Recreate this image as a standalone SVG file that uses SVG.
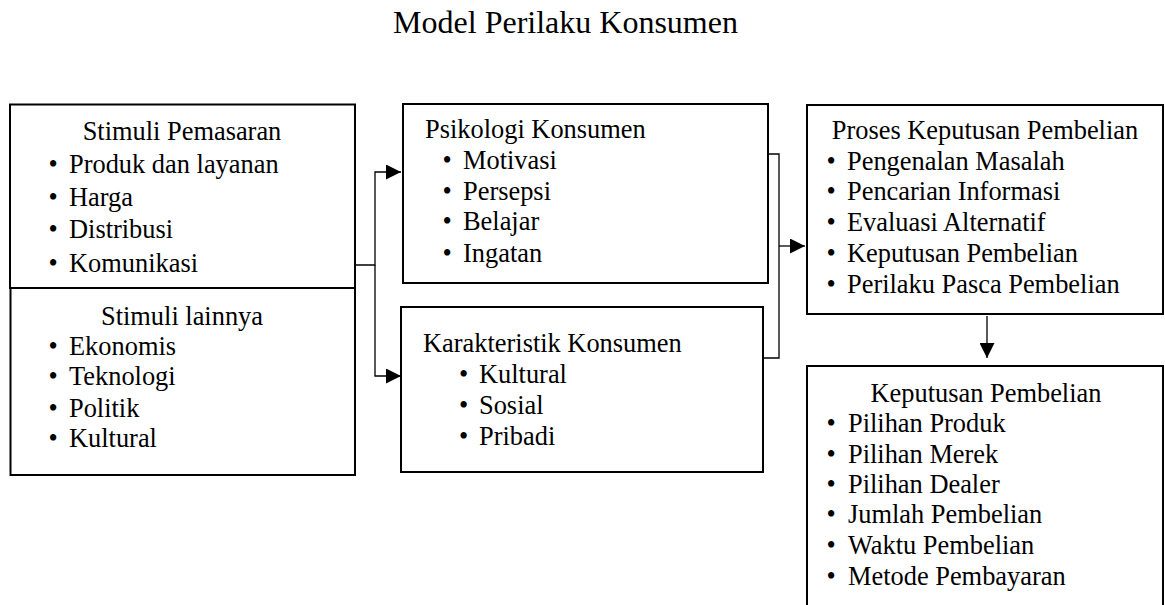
<svg xmlns="http://www.w3.org/2000/svg" width="1165" height="605" viewBox="0 0 1165 605">
<style>
  text { font-family: "Liberation Serif", "Times New Roman", serif; font-size: 26.4px; fill: #000; }
  .title { font-size: 32px; }
  .c { text-anchor: middle; }
  .box { fill: #fff; stroke: #000; stroke-width: 2; }
  .conn { fill: none; stroke: #000; stroke-width: 1.3; }
</style>
<defs>
  <marker id="arrow" markerUnits="userSpaceOnUse" markerWidth="15" markerHeight="15" viewBox="0 0 15 15" refX="15" refY="7.5" orient="auto">
    <path d="M0,0 L15,7.5 L0,15 Z" fill="#000"/>
  </marker>
</defs>
<rect width="1165" height="605" fill="#fff"/>
<text class="title c" x="565.5" y="33">Model Perilaku Konsumen</text>

<g id="connectors">
  <path class="conn" d="M355,265 H375 V172 H401" marker-end="url(#arrow)"/>
  <path class="conn" d="M375,265 V376 H401" marker-end="url(#arrow)"/>
  <path class="conn" d="M764,154 H779 V358 H763"/>
  <path class="conn" d="M779,246 H805" marker-end="url(#arrow)"/>
  <path class="conn" d="M987,316 V358" marker-end="url(#arrow)"/>
</g>

<g id="stimuli-pemasaran">
  <rect class="box" x="10" y="104.5" width="345" height="183.5"/>
  <text class="c" x="182" y="140">Stimuli Pemasaran</text>
  <text x="48.5" y="173">•</text><text x="69" y="173">Produk dan layanan</text>
  <text x="48.5" y="206">•</text><text x="69" y="206">Harga</text>
  <text x="48.5" y="238">•</text><text x="69" y="238">Distribusi</text>
  <text x="48.5" y="272">•</text><text x="69" y="272">Komunikasi</text>
</g>

<g id="stimuli-lainnya">
  <rect class="box" x="10.5" y="288" width="344.5" height="187"/>
  <text class="c" x="182" y="325">Stimuli lainnya</text>
  <text x="48.5" y="355">•</text><text x="69" y="355">Ekonomis</text>
  <text x="48.5" y="385">•</text><text x="69" y="385">Teknologi</text>
  <text x="48.5" y="417">•</text><text x="69" y="417">Politik</text>
  <text x="48.5" y="447">•</text><text x="69" y="447">Kultural</text>
</g>

<g id="psikologi-konsumen">
  <rect class="box" x="403" y="104" width="365" height="179"/>
  <text x="425" y="138">Psikologi Konsumen</text>
  <text x="442.5" y="169">•</text><text x="463" y="169">Motivasi</text>
  <text x="442.5" y="200">•</text><text x="463" y="200">Persepsi</text>
  <text x="442.5" y="230">•</text><text x="463" y="230">Belajar</text>
  <text x="442.5" y="262">•</text><text x="463" y="262">Ingatan</text>
</g>

<g id="karakteristik-konsumen">
  <rect class="box" x="401" y="307" width="362" height="165"/>
  <text x="423" y="352">Karakteristik Konsumen</text>
  <text x="459" y="383">•</text><text x="479" y="383">Kultural</text>
  <text x="459" y="414">•</text><text x="479" y="414">Sosial</text>
  <text x="459" y="445">•</text><text x="479" y="445">Pribadi</text>
</g>

<g id="proses-keputusan">
  <rect class="box" x="807" y="105" width="356" height="209"/>
  <text class="c" x="985" y="139">Proses Keputusan Pembelian</text>
  <text x="826.5" y="170">•</text><text x="847" y="170">Pengenalan Masalah</text>
  <text x="826.5" y="200">•</text><text x="847" y="200">Pencarian Informasi</text>
  <text x="826.5" y="231">•</text><text x="847" y="231">Evaluasi Alternatif</text>
  <text x="826.5" y="262">•</text><text x="847" y="262">Keputusan Pembelian</text>
  <text x="826.5" y="293">•</text><text x="847" y="293">Perilaku Pasca Pembelian</text>
</g>

<g id="keputusan-pembelian">
  <rect class="box" x="807" y="366" width="356" height="250"/>
  <text class="c" x="986" y="402">Keputusan Pembelian</text>
  <text x="826.5" y="432">•</text><text x="848" y="432">Pilihan Produk</text>
  <text x="826.5" y="463">•</text><text x="848" y="463">Pilihan Merek</text>
  <text x="826.5" y="493">•</text><text x="848" y="493">Pilihan Dealer</text>
  <text x="826.5" y="523">•</text><text x="848" y="523">Jumlah Pembelian</text>
  <text x="826.5" y="554">•</text><text x="848" y="554">Waktu Pembelian</text>
  <text x="826.5" y="585">•</text><text x="848" y="585">Metode Pembayaran</text>
</g>
</svg>
